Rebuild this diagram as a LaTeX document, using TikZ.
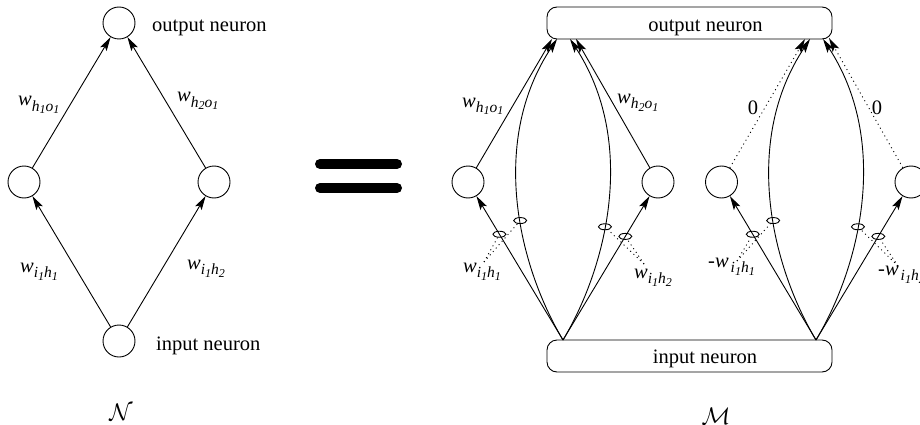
\documentclass[tikz,border=0pt]{standalone}
\usepackage{fontspec}
\setmainfont{Liberation Serif}
\usetikzlibrary{arrows.meta,shapes.geometric}
\newcommand\wsub[4]{\raisebox{-5.5pt}{\fontsize{15.5}{15.5}\selectfont\textit{#1}\raisebox{-2.5pt}{\fontsize{12}{12}\selectfont\textit{#2}}\textit{#3}\raisebox{-2.5pt}{\fontsize{12}{12}\selectfont\textit{#4}}}}
\newcommand\wlab[4]{\textit{w}\wsub{#1}{#2}{#3}{#4}}
\newcommand\nwlab[4]{-\textit{w}\hspace{2pt}\wsub{#1}{#2}{#3}{#4}}
\begin{document}
\begin{tikzpicture}[x=1pt,y=-1pt,
  neuron/.style={circle,draw,line width=0.9pt,minimum size=32pt,inner sep=0pt},
  bigbox/.style={draw,rounded corners=10pt,line width=0.9pt,minimum width=285pt,minimum height=32pt,inner sep=0pt},
  conn/.style={line width=0.9pt,-{Stealth[length=14pt,width=7.5pt,inset=3pt]}},
  dotconn/.style={line width=0.9pt,dash pattern=on 1pt off 3.5pt,-{Stealth[length=14pt,width=7.5pt,inset=3pt]}},
  dotline/.style={line width=0.9pt,dash pattern=on 1pt off 3.5pt},
  tap/.style={ellipse,draw,line width=0.9pt,minimum width=13pt,minimum height=6pt,inner sep=0pt},
  lab/.style={font=\fontsize{20.5}{24}\selectfont,inner sep=0pt},
  eqbar/.style={line width=10pt,line cap=round}
]
\useasboundingbox (0,0) rectangle (920,425);

% ---------- network N ----------
\node[neuron] (o) at (119,23) {};
\node[neuron] (h1) at (24,182) {};
\node[neuron] (h2) at (214,182) {};
\node[neuron] (i) at (119,341) {};
\draw[conn] (i) -- (h1);
\draw[conn] (i) -- (h2);
\draw[conn] (h1) -- (o);
\draw[conn] (h2) -- (o);
\node[lab,anchor=base west] (ot) at (152,32) {output neuron};
\node[lab,anchor=base west] (it) at (156,350) {input neuron};
\node[lab,anchor=base west] (l1) at (18,106) {\wlab{h}{1}{o}{1}};
\node[lab,anchor=base west] (l2) at (177,102) {\wlab{h}{2}{o}{1}};
\node[lab,anchor=base west] (l3) at (20,272) {\wlab{i}{1}{h}{1}};
\node[lab,anchor=base west] (l4) at (187,269) {\wlab{i}{1}{h}{2}};
\node[scale=2.4,inner sep=0pt] (Nc) at (121,412) {$\mathcal{N}$};

% ---------- equals ----------
\draw[eqbar] (320,164) -- (397,164);
\draw[eqbar] (320,188) -- (397,188);

% ---------- network M ----------
\node[bigbox] (OB) at (689.5,23) {};
\node[bigbox] (IB) at (689.5,356) {};
\node[lab,anchor=base] (OBt) at (705.5,32) {output neuron};
\node[lab,anchor=base] (IBt) at (705,363.5) {input neuron};

\node[neuron] (hl1) at (468,182) {};
\node[neuron] (hl2) at (658,182) {};
\node[neuron] (hr1) at (721.5,182) {};
\node[neuron] (hr2) at (911,182) {};

\coordinate (bL) at (563,340);
\coordinate (bR) at (816,340);
\coordinate (tL1) at (552,39);
\coordinate (tL2) at (557,39);
\coordinate (tL3) at (570,39);
\coordinate (tL4) at (576,39);
\coordinate (tR1) at (805,39);
\coordinate (tR2) at (810,39);
\coordinate (tR3) at (823,39);
\coordinate (tR4) at (829,38);

% left group
\draw[conn] (bL) -- (hl1) node[tap,pos=0.735] (eL1) {};
\draw[conn] (bL) -- (hl2) node[tap,pos=0.72] (eL4) {};
\draw[conn] (bL) .. controls (517,263) and (490,140) .. (tL2) node[tap,pos=0.43] (eL2) {};
\draw[conn] (bL) .. controls (609,263) and (636,140) .. (tL3) node[tap,pos=0.41] (eL3) {};
\draw[conn] (hl1) -- (tL1);
\draw[conn] (hl2) -- (tL4);

% right group
\draw[conn] (bR) -- (hr1) node[tap,pos=0.735] (eR1) {};
\draw[conn] (bR) -- (hr2) node[tap,pos=0.72] (eR4) {};
\draw[conn] (bR) .. controls (770,263) and (743,140) .. (tR2) node[tap,pos=0.43] (eR2) {};
\draw[conn] (bR) .. controls (862,263) and (889,140) .. (tR3) node[tap,pos=0.41] (eR3) {};
\draw[dotconn] (hr1) -- (tR1);
\draw[dotconn] (hr2) -- (tR4);

% labels of M
\node[lab,anchor=base west] (m1) at (462,107) {\wlab{h}{1}{o}{1}};
\node[lab,anchor=base west] (m2) at (617,103) {\wlab{h}{2}{o}{1}};
\node[lab,anchor=base west] (m3) at (463,272) {\wlab{i}{1}{h}{1}};
\node[lab,anchor=base west] (m4) at (634,278) {\wlab{i}{1}{h}{2}};
\node[lab,anchor=base west] (m5) at (708,267) {\nwlab{i}{1}{h}{1}};
\node[lab,anchor=base west] (m6) at (878,275) {\nwlab{i}{1}{h}{2}};
\node[lab,anchor=base] (z1) at (753,115) {0};
\node[lab,anchor=base] (z2) at (877,115) {0};
\node[scale=2.4,inner sep=0pt] (Mc) at (716,416) {$\mathcal{M}$};

% dotted weight pointers
\coordinate (dL1) at (484,262);
\coordinate (dL2) at (644,264);
\coordinate (dR1) at (737,261);
\coordinate (dR2) at (898,266);
\draw[dotline] (dL1) -- (eL1);
\draw[dotline] (dL1) -- (eL2);
\draw[dotline] (dL2) -- (eL3);
\draw[dotline] (dL2) -- (eL4);
\draw[dotline] (dR1) -- (eR1);
\draw[dotline] (dR1) -- (eR2);
\draw[dotline] (dR2) -- (eR3);
\draw[dotline] (dR2) -- (eR4);
\end{tikzpicture}
\end{document}
